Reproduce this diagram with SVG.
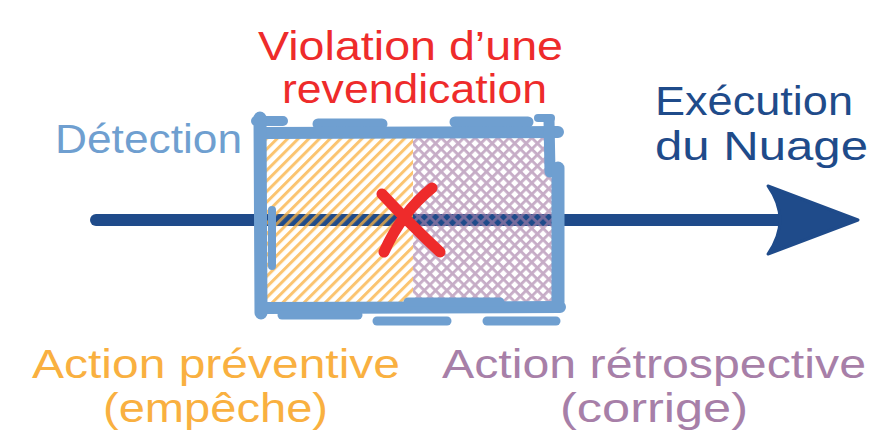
<svg xmlns="http://www.w3.org/2000/svg" width="872" height="442" viewBox="0 0 872 442">
  <defs>
    <pattern id="hatch-orange" patternUnits="userSpaceOnUse" width="7.5" height="7.5" patternTransform="rotate(45)">
      <rect x="0" y="0" width="3" height="7.5" fill="#f9b040"/>
    </pattern>
    <pattern id="hatch-purple" patternUnits="userSpaceOnUse" width="8" height="8" patternTransform="rotate(45)">
      <rect x="0" y="0" width="2.8" height="8" fill="#a77fa8"/>
      <rect x="0" y="0" width="8" height="2.8" fill="#a77fa8"/>
    </pattern>
    <style>
      .lbl { font-family: "Liberation Sans", Arial, sans-serif; font-size: 40px; }
      .red { fill: #ee2b2b; }
      .lblue { fill: #6f9fd0; }
      .dblue { fill: #1f4b8a; }
      .orange { fill: #f9b040; }
      .purple { fill: #a77fa8; }
      .edge { stroke: #6f9fd0; stroke-linecap: round; fill: none; }
    </style>
  </defs>

  <!-- timeline arrow -->
  <g id="connectors">
    <line x1="96" y1="220" x2="782" y2="220" stroke="#1f4b8a" stroke-width="12" stroke-linecap="round"/>
    <path d="M768,186 L858,220 L768,254 Q792,220 768,186 Z" fill="#1f4b8a" stroke="#1f4b8a" stroke-width="3" stroke-linejoin="round"/>
  </g>

  <!-- claim violation window -->
  <g id="window">
    <rect x="265" y="128" width="148" height="178" fill="url(#hatch-orange)" opacity="0.75"/>
    <rect x="413" y="131" width="141" height="174" fill="url(#hatch-purple)" opacity="0.65"/>
    <g class="edge">
      <path d="M256,121 H283" stroke-width="10"/>
      <path d="M318,124 H382" stroke-width="11"/>
      <path d="M455,122 H528" stroke-width="11"/>
      <path d="M538,118 H551" stroke-width="8"/>
      <path d="M262,133 L558,132" stroke-width="12"/>
      <path d="M260,118 L261,313" stroke-width="13"/>
      <path d="M272,210 V266" stroke-width="8"/>
      <path d="M549,120 L550,172" stroke-width="11"/>
      <path d="M558,168 L558,302" stroke-width="13"/>
      <path d="M262,308 L560,307" stroke-width="12"/>
      <path d="M408,302 H500" stroke-width="9"/>
      <path d="M282,315 H358" stroke-width="9"/>
      <path d="M377,321 H447" stroke-width="9"/>
      <path d="M487,321 H556" stroke-width="9"/>
    </g>
    <g stroke="#ee2b2b" stroke-linecap="round" fill="none" stroke-width="11">
      <path d="M382,194 Q412,226 440,252"/>
      <path d="M432,188 Q402,212 384,252"/>
    </g>
  </g>

  <g id="violation">
    <text class="lbl red" x="258" y="60" textLength="305" lengthAdjust="spacingAndGlyphs">Violation d’une</text>
    <text class="lbl red" x="282" y="103" textLength="265" lengthAdjust="spacingAndGlyphs">revendication</text>
  </g>

  <g id="detection">
    <text class="lbl lblue" x="55" y="153" textLength="187" lengthAdjust="spacingAndGlyphs">Détection</text>
  </g>

  <g id="execution">
    <text class="lbl dblue" x="655" y="115" textLength="198" lengthAdjust="spacingAndGlyphs">Exécution</text>
    <text class="lbl dblue" x="655" y="160" textLength="213" lengthAdjust="spacingAndGlyphs">du Nuage</text>
  </g>

  <g id="preventive">
    <text class="lbl orange" x="32" y="378" textLength="368" lengthAdjust="spacingAndGlyphs">Action préventive</text>
    <text class="lbl orange" x="103" y="422" textLength="225" lengthAdjust="spacingAndGlyphs">(empêche)</text>
  </g>

  <g id="retrospective">
    <text class="lbl purple" x="442" y="378" textLength="424" lengthAdjust="spacingAndGlyphs">Action rétrospective</text>
    <text class="lbl purple" x="560" y="422" textLength="188" lengthAdjust="spacingAndGlyphs">(corrige)</text>
  </g>
</svg>
